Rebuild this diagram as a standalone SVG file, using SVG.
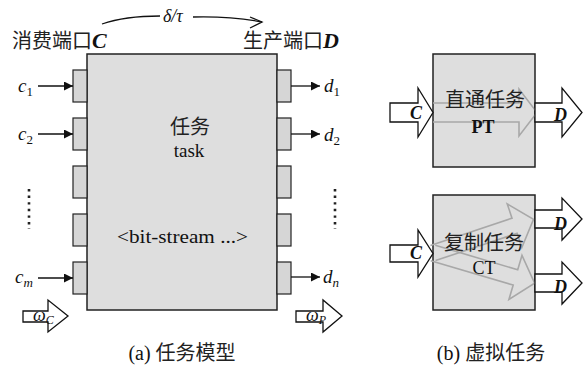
<svg xmlns="http://www.w3.org/2000/svg" width="588" height="366" viewBox="0 0 588 366">
<defs>
<style>
.box{fill:#dedede;stroke:#222;stroke-width:1.5}
.port{fill:#d6d6d6;stroke:#222;stroke-width:1.2}
.ln{stroke:#111;stroke-width:1.3;fill:none}
.hollow{fill:#fff;stroke:#111;stroke-width:1.3}
.ghost{fill:none;stroke:#a8a8a8;stroke-width:1.6}
.dots{stroke:#222;stroke-width:2.6;stroke-dasharray:2.4 4.2}
.it{font-family:"Liberation Serif","DejaVu Serif",serif;font-style:italic;fill:#111}
.rm{font-family:"Liberation Serif","DejaVu Serif",serif;font-style:normal;fill:#111}
.cjk{font-family:"Noto Sans CJK SC",sans-serif;font-style:normal;fill:#222}
.bi{font-family:"Liberation Serif","DejaVu Serif",serif;font-style:italic;font-weight:bold;fill:#111}
</style>
<marker id="ah" viewBox="0 0 10 10" refX="10" refY="5" markerWidth="9" markerHeight="9" markerUnits="userSpaceOnUse" orient="auto"><path d="M0,0 L10,5 L0,10 Z" fill="#111"/></marker>
</defs>
<rect width="588" height="366" fill="#fff"/>

<g id="task">
<rect class="box" x="87" y="54" width="190" height="256"/>
<text class="cjk" x="190" y="134" font-size="20" text-anchor="middle">任务</text>
<text class="rm" x="189" y="157" font-size="19" text-anchor="middle">task</text>
<text class="rm" x="117" y="243" font-size="19" textLength="131" lengthAdjust="spacingAndGlyphs">&lt;bit-stream ...&gt;</text>
</g>

<g id="ports-c">
<rect class="port" x="73" y="70" width="14" height="32"/>
<rect class="port" x="73" y="118" width="14" height="32"/>
<rect class="port" x="73" y="166" width="14" height="32"/>
<rect class="port" x="73" y="214" width="14" height="32"/>
<rect class="port" x="73" y="262" width="14" height="32"/>
</g>
<g id="ports-d">
<rect class="port" x="277" y="70" width="14" height="32"/>
<rect class="port" x="277" y="118" width="14" height="32"/>
<rect class="port" x="277" y="166" width="14" height="32"/>
<rect class="port" x="277" y="214" width="14" height="32"/>
<rect class="port" x="277" y="262" width="14" height="32"/>
</g>

<g id="labels-a">
<text x="12" y="48" font-size="20"><tspan class="cjk">消费端口</tspan><tspan class="bi" font-size="22">C</tspan></text>
<text x="243" y="48" font-size="20"><tspan class="cjk">生产端口</tspan><tspan class="bi" font-size="22">D</tspan></text>
<text class="it" x="163" y="22" font-size="18">δ/τ</text>
<text class="it" x="18" y="92" font-size="19">c<tspan class="rm" font-size="13" dy="4">1</tspan></text>
<text class="it" x="18" y="140" font-size="19">c<tspan class="rm" font-size="13" dy="4">2</tspan></text>
<text class="it" x="15" y="283" font-size="19">c<tspan font-size="13" dy="4">m</tspan></text>
<text class="it" x="324" y="92" font-size="19">d<tspan class="rm" font-size="13" dy="4">1</tspan></text>
<text class="it" x="324" y="141" font-size="19">d<tspan class="rm" font-size="13" dy="4">2</tspan></text>
<text class="it" x="323" y="283" font-size="19">d<tspan font-size="13" dy="4">n</tspan></text>
<line class="dots" x1="29" y1="189" x2="29" y2="229"/>
<line class="dots" x1="335" y1="189" x2="335" y2="229"/>
<text class="rm" x="182" y="360" font-size="20" text-anchor="middle">(a) <tspan class="cjk">任务模型</tspan></text>
</g>

<g id="connectors">
<path class="ln" d="M102,24 Q125,16 160,16"/>
<path class="ln" d="M193,17 Q230,16 262,22"/>
<path class="ln" d="M250,17 L262,22 L250,28"/>
<line class="ln" x1="38" y1="86" x2="73" y2="86" marker-end="url(#ah)"/>
<line class="ln" x1="38" y1="134" x2="73" y2="134" marker-end="url(#ah)"/>
<line class="ln" x1="38" y1="278" x2="73" y2="278" marker-end="url(#ah)"/>
<line class="ln" x1="291" y1="86" x2="320" y2="86" marker-end="url(#ah)"/>
<line class="ln" x1="291" y1="134" x2="320" y2="134" marker-end="url(#ah)"/>
<line class="ln" x1="291" y1="277" x2="320" y2="277" marker-end="url(#ah)"/>
</g>

<g id="omega-c">
<path class="hollow" d="M23,311 H48 V300 L68,316 L48,332 V322 H23 Z"/>
<text class="it" x="33" y="321" font-size="18">ω<tspan font-size="12" dy="3">C</tspan></text>
</g>
<g id="omega-p">
<path class="hollow" d="M296,311 H323 V300 L342,316 L323,332 V322 H296 Z"/>
<text class="it" x="306" y="321" font-size="18">ω<tspan font-size="12" dy="3">P</tspan></text>
</g>

<g id="pt">
<rect class="box" x="433" y="54" width="102" height="113"/>
<path class="ghost" d="M433,103 H519 V89 L537,112.5 L519,136 V122 H433"/>
<text class="cjk" x="485" y="107" font-size="20" text-anchor="middle">直通任务</text>
<text class="rm" x="483" y="133" font-size="18" font-weight="bold" text-anchor="middle">PT</text>
<path class="hollow" d="M390,103 H418 V88 L433,112.5 L418,137 V122 H390 Z"/>
<text class="bi" x="410" y="119" font-size="18">C</text>
<path class="hollow" d="M535,103 H562 V88 L582,112.5 L562,137 V122 H535 Z"/>
<text class="bi" x="554" y="121" font-size="18">D</text>
</g>

<g id="ct">
<rect class="box" x="433" y="195" width="102" height="115"/>
<g transform="translate(433,253) rotate(-18.5)">
<path class="ghost" d="M0,-8 H86 V-23 L106,0 L86,23 V8 H0"/>
</g>
<g transform="translate(433,253) rotate(16.5)">
<path class="ghost" d="M0,-8 H86 V-23 L106,0 L86,23 V8 H0"/>
</g>
<text class="cjk" x="484" y="250" font-size="20" text-anchor="middle">复制任务</text>
<text class="rm" x="484" y="274" font-size="18" text-anchor="middle">CT</text>
<path class="hollow" d="M390,245 H418 V230 L433,253.5 L418,277 V262 H390 Z"/>
<text class="bi" x="410" y="259" font-size="18">C</text>
<path class="hollow" d="M535,210 H562 V198 L582,219 L562,240 V228 H535 Z"/>
<text class="bi" x="554" y="230" font-size="18">D</text>
<path class="hollow" d="M535,274 H562 V262 L582,283 L562,304 V292 H535 Z"/>
<text class="bi" x="554" y="293" font-size="18">D</text>
<text class="rm" x="491" y="360" font-size="20" text-anchor="middle">(b) <tspan class="cjk">虚拟任务</tspan></text>
</g>
</svg>
